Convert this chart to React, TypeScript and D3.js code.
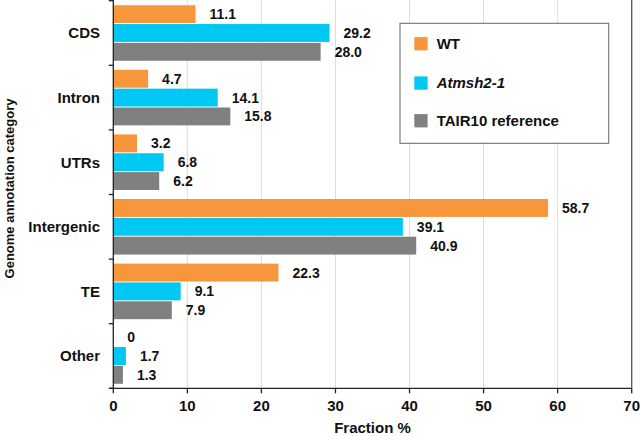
import * as d3 from "d3";

const categories = ["CDS", "Intron", "UTRs", "Intergenic", "TE", "Other"];
const seriesNames = ["WT", "Atmsh2-1", "TAIR10 reference"];
const wtValues = [11.1, 4.7, 3.2, 58.7, 22.3, 0];
const atmshValues = [29.2, 14.1, 6.8, 39.1, 9.1, 1.7];
const tairValues = [28.0, 15.8, 6.2, 40.9, 7.9, 1.3];
const xTicks = [0, 10, 20, 30, 40, 50, 60, 70];

const colors = ["#f7963a", "#00c8f2", "#808080"];
const font = "'Liberation Sans', Arial, sans-serif";

const W = 640;
const H = 436;
const plot = { left: 113.3, right: 631.7, top: 0.7, bottom: 388.3 };

export default function App() {
  const series = [wtValues, atmshValues, tairValues];

  const x = d3.scaleLinear().domain([0, 70]).range([plot.left, plot.right]);
  const y = d3
    .scaleBand<string>()
    .domain(categories)
    .range([plot.top, plot.bottom])
    .paddingInner(0.14)
    .paddingOuter(0.07);
  const sub = d3
    .scaleBand<string>()
    .domain(seriesNames)
    .range([0, y.bandwidth()])
    .paddingInner(0.05);

  const step = y.step();
  const boundaries = d3.range(categories.length + 1).map((i) => plot.top + i * step);

  const fmt = (v: number) => (v === 0 ? "0" : v.toFixed(1));

  return (
    <svg
      width={W}
      height={H}
      style={{ position: "absolute", left: 0, top: 0, background: "#fff" }}
      fontFamily={font}
      fontWeight="bold"
    >
      {/* gridlines */}
      {xTicks
        .filter((t) => t > 0 && t < 70)
        .map((t) => (
          <line key={t} x1={x(t)} x2={x(t)} y1={plot.top - 1} y2={plot.bottom} stroke="#dcdcdc" strokeWidth={1} />
        ))}

      {/* bars */}
      {categories.map((c, ci) =>
        series.map((vals, si) => {
          const v = vals[ci];
          const by = (y(c) || 0) + (sub(seriesNames[si]) || 0);
          const bh = sub.bandwidth();
          return (
            <g key={c + si}>
              {v > 0 && (
                <rect x={x(0)} y={by} width={x(v) - x(0)} height={bh} fill={colors[si]} />
              )}
              <text x={x(v) + 14} y={by + bh / 2} dy="0.36em" fontSize={14} fill="#111">
                {fmt(v)}
              </text>
            </g>
          );
        })
      )}

      {/* frame */}
      <line x1={plot.right} x2={plot.right} y1={plot.top - 1} y2={plot.bottom} stroke="#555" strokeWidth={1.3} />
      <line x1={plot.left} x2={plot.left} y1={plot.top - 1} y2={plot.bottom} stroke="#222" strokeWidth={1.3} />
      <line x1={plot.left - 4} x2={plot.right} y1={plot.bottom} y2={plot.bottom} stroke="#222" strokeWidth={1.3} />

      {/* y ticks and labels */}
      {boundaries.map((b, i) => (
        <line key={i} x1={plot.left - 4.5} x2={plot.left} y1={b} y2={b} stroke="#222" strokeWidth={1.3} />
      ))}
      {categories.map((c) => (
        <text key={c} x={100} y={(y(c) || 0) + y.bandwidth() / 2} dy="0.36em" textAnchor="end" fontSize={15} fill="#111">
          {c}
        </text>
      ))}

      {/* x ticks and labels */}
      {xTicks.map((t) => (
        <g key={t}>
          <line x1={x(t)} x2={x(t)} y1={plot.bottom} y2={plot.bottom + 5} stroke="#222" strokeWidth={1.3} />
          <text x={x(t)} y={411} textAnchor="middle" fontSize={15} fill="#111">
            {t}
          </text>
        </g>
      ))}

      <text x={(plot.left + plot.right) / 2} y={433} textAnchor="middle" fontSize={15} fill="#111">
        Fraction %
      </text>
      <text
        transform={`translate(14,${(plot.top + plot.bottom) / 2 - 6}) rotate(-90)`}
        textAnchor="middle"
        fontSize={13}
        fill="#111"
      >
        Genome annotation category
      </text>

      {/* legend */}
      <rect x={400} y={23.3} width={208.7} height={120} fill="#fff" stroke="#666" strokeWidth={1} />
      {seriesNames.map((s, i) => {
        const cy = [43.7, 83, 120.7][i];
        return (
          <g key={s}>
            <rect x={414.3} y={cy - 6.6} width={13.3} height={13.3} fill={colors[i]} />
            <text x={436.7} y={cy} dy="0.36em" fontSize={15} fill="#111" fontStyle={i === 1 ? "italic" : "normal"}>
              {s}
            </text>
          </g>
        );
      })}
    </svg>
  );
}
